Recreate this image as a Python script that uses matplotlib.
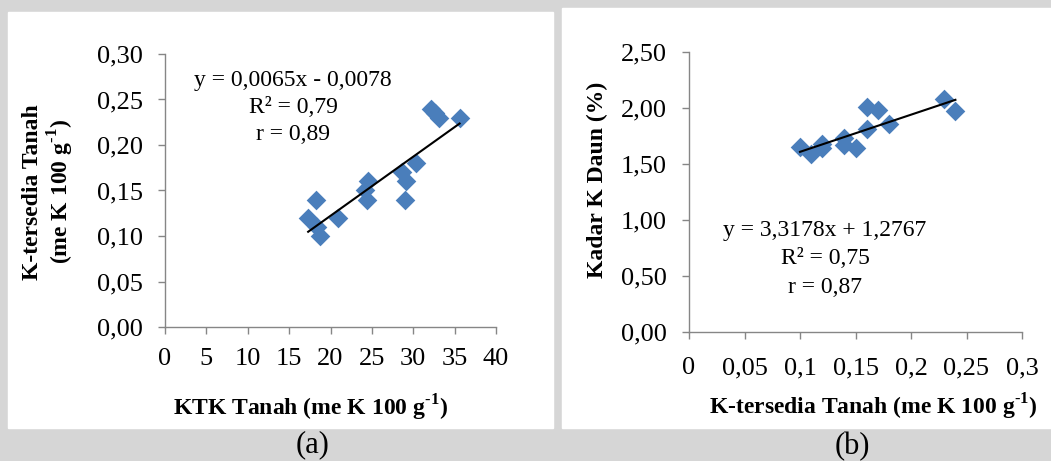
import matplotlib
matplotlib.use("Agg")
import matplotlib.pyplot as plt
import numpy as np

# data panel (a): KTK tanah vs K-tersedia tanah
ktk = [17.3, 18.3, 18.7, 18.4, 20.9, 24.2, 24.5, 24.4, 28.7, 29.1, 29.0, 30.3, 32.1, 32.6, 33.1, 35.6]
k_tanah_a = [0.12, 0.14, 0.10, 0.11, 0.12, 0.15, 0.16, 0.14, 0.17, 0.16, 0.14, 0.18, 0.24, 0.235, 0.23, 0.23]
fit_a = (0.0065, -0.0078)
eq_a = ["y = 0,0065x - 0,0078", "R² = 0,79", "r = 0,89"]

# data panel (b): K-tersedia tanah vs kadar K daun
k_tanah_b = [0.10, 0.11, 0.12, 0.12, 0.14, 0.14, 0.15, 0.16, 0.17, 0.16, 0.18, 0.23, 0.24]
k_daun = [1.65, 1.59, 1.68, 1.64, 1.73, 1.67, 1.64, 2.01, 1.98, 1.81, 1.86, 2.08, 1.97]
fit_b = (3.3178, 1.2767)
eq_b = ["y = 3,3178x + 1,2767", "R² = 0,75", "r = 0,87"]

xticks_a = [0, 5, 10, 15, 20, 25, 30, 35, 40]
yticks_a = [0.00, 0.05, 0.10, 0.15, 0.20, 0.25, 0.30]
yticklabels_a = ["0,00", "0,05", "0,10", "0,15", "0,20", "0,25", "0,30"]
xticks_b = [0, 0.05, 0.1, 0.15, 0.2, 0.25, 0.3]
xticklabels_b = ["0", "0,05", "0,1", "0,15", "0,2", "0,25", "0,3"]
yticks_b = [0.0, 0.5, 1.0, 1.5, 2.0, 2.5]
yticklabels_b = ["0,00", "0,50", "1,00", "1,50", "2,00", "2,50"]

plt.rcParams["font.family"] = "Liberation Serif"
plt.rcParams["mathtext.fontset"] = "custom"
plt.rcParams["mathtext.rm"] = "Liberation Serif:bold"
plt.rcParams["mathtext.bf"] = "Liberation Serif:bold"

W, H = 1051, 461
fig = plt.figure(figsize=(W / 100, H / 100), dpi=100)
fig.patch.set_facecolor("#d6d6d6")

# white panels behind the charts
for (x0, y0, x1, y1) in [(8, 12, 553, 428), (562, 8, 1051, 428)]:
    fig.patches.append(plt.Rectangle((x0 / W, 1 - y1 / H), (x1 - x0) / W, (y1 - y0) / H,
                                     color="white", transform=fig.transFigure, figure=fig, zorder=-5))

blue = "#4a7ebb"
spine_c = "#868686"
fs = 17
tick_fs = 19
unit = r"(me K 100 g$^{\text{-}1}$)"


def style(ax):
    for s in ["top", "right"]:
        ax.spines[s].set_visible(False)
    for s in ["left", "bottom"]:
        ax.spines[s].set_color(spine_c)
        ax.spines[s].set_linewidth(1.0)
    ax.tick_params(axis="both", colors=spine_c, labelcolor="black", labelsize=tick_fs,
                   direction="out", length=5, width=1.0)
    ax.tick_params(axis="y", pad=11)
    ax.tick_params(axis="x", pad=10)
    ax.set_facecolor("white")


# ---- panel (a)
ax1 = fig.add_axes([165 / W, 1 - 327 / H, (496 - 165) / W, (327 - 54) / H])
ax1.scatter(ktk, k_tanah_a, marker="D", s=100, color=blue, zorder=3, linewidths=0)
xs = np.array([min(ktk), max(ktk)])
ax1.plot(xs, fit_a[0] * xs + fit_a[1], color="black", lw=1.5, zorder=4)
ax1.set_xlim(0, 40)
ax1.set_ylim(0, 0.30)
ax1.set_xticks(xticks_a)
ax1.set_yticks(yticks_a)
ax1.set_yticklabels(yticklabels_a)
style(ax1)
for i, t in enumerate(eq_a):
    ax1.text(15.5, 0.271 - i * 0.0297, t, ha="center", va="center", fontsize=fs)

fig.text(310 / W, 1 - 408 / H, "KTK Tanah " + unit,
         ha="center", va="center", fontsize=fs, fontweight="bold")
fig.text(49 / W, 1 - 192 / H, "K-tersedia Tanah\n" + unit,
         ha="center", va="center", rotation=90, fontsize=fs, fontweight="bold",
         multialignment="center", linespacing=1.1)
fig.text(313 / W, 1 - 445 / H, "(a)", ha="center", va="center", fontsize=22)

# ---- panel (b)
ax2 = fig.add_axes([689 / W, 1 - 332 / H, (1022 - 689) / W, (332 - 52) / H])
ax2.scatter(k_tanah_b, k_daun, marker="D", s=100, color=blue, zorder=3, linewidths=0)
xs = np.array([min(k_tanah_b), max(k_tanah_b)])
ax2.plot(xs, fit_b[0] * xs + fit_b[1], color="black", lw=1.5, zorder=4)
ax2.set_xlim(0, 0.3)
ax2.set_ylim(0, 2.5)
ax2.set_xticks(xticks_b)
ax2.set_xticklabels(xticklabels_b)
ax2.set_yticks(yticks_b)
ax2.set_yticklabels(yticklabels_b)
style(ax2)
ax2.tick_params(axis="x", pad=13)
for i, t in enumerate(eq_b):
    ax2.text(0.1225, 0.91 - i * 0.255, t, ha="center", va="center", fontsize=fs)

fig.text(873 / W, 1 - 407 / H, "K-tersedia Tanah " + unit,
         ha="center", va="center", fontsize=fs, fontweight="bold")
fig.text(597 / W, 1 - 180 / H, "Kadar K Daun (%)", ha="center", va="center",
         rotation=90, fontsize=fs, fontweight="bold")
fig.text(852 / W, 1 - 447 / H, "(b)", ha="center", va="center", fontsize=22)

fig.savefig("out.png", dpi=100, facecolor=fig.get_facecolor())
